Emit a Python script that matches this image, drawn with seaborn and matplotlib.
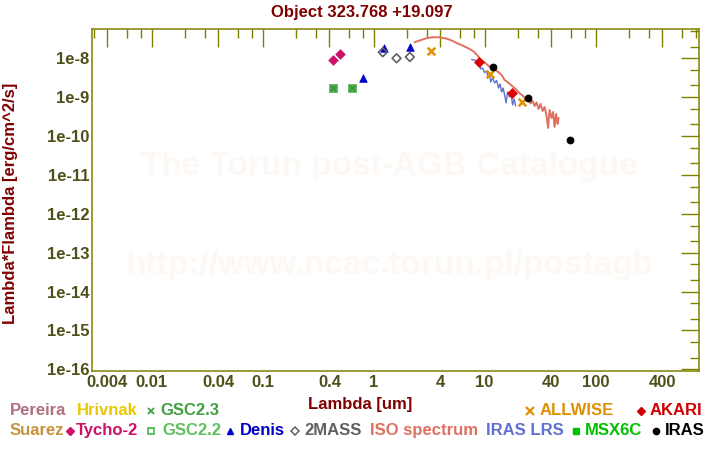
import matplotlib
matplotlib.use("Agg")
import matplotlib.pyplot as plt
from matplotlib.lines import Line2D
import seaborn as sns
import pandas as pd

# ---------------- data ----------------
tycho_x = [0.43, 0.497]
tycho_y = [9.04e-9, 1.27e-8]
gsc22_x = [0.43, 0.638]
gsc22_y = [1.69e-9, 1.69e-9]
gsc23_x = [0.43, 0.638]
gsc23_y = [1.69e-9, 1.69e-9]
denis_x = [0.796, 1.238, 2.11]
denis_y = [3.06e-9, 1.87e-8, 1.99e-8]
tmass_x = [1.21, 1.61, 2.12]
tmass_y = [1.43e-8, 1.0e-8, 1.08e-8]
allwise_x = [3.28, 11.3, 21.7]
allwise_y = [1.51e-8, 3.88e-9, 7.66e-10]
akari_x = [8.83, 17.5]
akari_y = [7.89e-9, 1.26e-9]
iras_x = [11.88, 24.55, 58.7]
iras_y = [5.87e-9, 9.37e-10, 7.8e-11]

iso_x = [2.34, 2.60, 2.98, 3.40, 3.93, 4.36, 4.67, 5.04, 5.48, 5.95, 6.60, 7.33,
         7.96, 8.42, 8.83, 9.34, 10.0, 11.09, 12.05, 13.18, 14.23, 15.14, 16.45,
         17.99, 19.43, 20.67, 22.0, 23.75, 24.91, 25.97, 27.06, 28.22, 29.41,
         30.65, 31.95, 33.30, 34.71, 36.19, 37.34, 38.51, 40.14, 41.41, 42.72,
         44.07, 45.47, 46.42]
iso_y = [2.58e-8, 2.87e-8, 3.27e-8, 3.47e-8, 3.47e-8, 3.27e-8, 3.13e-8, 2.87e-8,
         2.55e-8, 2.29e-8, 2.01e-8, 1.73e-8, 1.50e-8, 1.27e-8, 1.08e-8, 9.04e-9,
         7.80e-9, 6.08e-9, 5.31e-9, 4.52e-9, 3.72e-9, 2.77e-9, 2.32e-9, 1.86e-9,
         1.53e-9, 1.26e-9, 1.106e-9, 8.47e-10, 8.99e-10, 6.89e-10, 7.99e-10,
         5.94e-10, 7.31e-10, 4.97e-10, 6.69e-10, 4.42e-10, 5.60e-10, 3.29e-10,
         1.62e-10, 4.69e-10, 2.92e-10, 4.16e-10, 1.71e-10, 3.70e-10, 2.05e-10,
         2.92e-10]

lrs_x = [7.64, 8.47, 8.65, 9.02, 9.20, 9.59, 10.0, 10.42, 10.75, 11.09, 11.33,
         11.81, 12.31, 12.83, 13.37, 13.79, 14.23, 14.68, 15.14, 15.62, 16.11,
         16.80, 17.33, 17.88, 18.45, 19.03]
lrs_y = [9.31e-9, 8.78e-9, 6.73e-9, 7.14e-9, 5.31e-9, 5.63e-9, 4.32e-9, 4.72e-9,
         3.31e-9, 3.61e-9, 2.46e-9, 3.11e-9, 2.32e-9, 2.69e-9, 1.72e-9, 2.18e-9,
         1.36e-9, 1.72e-9, 1.14e-9, 7.10e-10, 1.36e-9, 1.01e-9, 1.21e-9, 6.30e-10,
         8.99e-10, 5.94e-10]

x_major = [0.004, 0.01, 0.04, 0.1, 0.4, 1, 4, 10, 40, 100, 400]
x_major_labels = ["0.004", "0.01", "0.04", "0.1", "0.4", "1", "4", "10", "40", "100", "400"]
x_minor = [0.003, 0.006, 0.008, 0.02, 0.03, 0.06, 0.08, 0.2, 0.3, 0.6, 0.8,
           2, 3, 6, 8, 20, 30, 60, 80, 200, 300, 600, 800]
y_major = [1e-8, 1e-9, 1e-10, 1e-11, 1e-12, 1e-13, 1e-14, 1e-15, 1e-16]
y_major_labels = ["1e-8", "1e-9", "1e-10", "1e-11", "1e-12", "1e-13", "1e-14", "1e-15", "1e-16"]
y_minor = [5e-8, 2e-8, 5e-9, 2e-9, 5e-10, 2e-10, 5e-11, 2e-11, 5e-12, 2e-12,
           5e-13, 2e-13, 5e-14, 2e-14, 5e-15, 2e-15, 5e-16, 2e-16]

# ---------------- style ----------------
sns.set_style("white")
plt.rcParams["font.family"] = ["Liberation Sans", "DejaVu Sans"]
plt.rcParams["font.weight"] = "bold"

OLIVE = "#808000"
TICKLAB = "#4f4f1a"
DARKRED = "#800000"

fig = plt.figure(figsize=(7.2, 4.5), dpi=100)
ax = fig.add_axes([92.3 / 720, 1 - 371.3 / 450, (699.3 - 92.3) / 720, (371.3 - 29.3) / 450])
ax.set_xscale("log")
ax.set_yscale("log")

# watermark
ax.text(0.49, 0.60, "The Torun post-AGB Catalogue", transform=ax.transAxes,
        ha="center", va="center", fontsize=24, color="#fdf8f3", zorder=0)
ax.text(0.49, 0.31, "http://www.ncac.torun.pl/postagb", transform=ax.transAxes,
        ha="center", va="center", fontsize=24, color="#fdf8f3", zorder=0)

# spectra
sns.lineplot(x=iso_x, y=iso_y, sort=False, estimator=None, color="#e07060",
             lw=1.4, ax=ax, zorder=2)
sns.lineplot(x=lrs_x, y=lrs_y, sort=False, estimator=None, color="#6070d0",
             lw=1.0, ax=ax, zorder=2)

# photometry
sns.scatterplot(x=gsc22_x, y=gsc22_y, marker="s", s=26, color="#50b050",
                edgecolor="#50b050", linewidth=0.5, ax=ax, zorder=3)
sns.scatterplot(x=gsc23_x, y=gsc23_y, marker="x", s=18, color="#3c963c",
                linewidth=1.2, ax=ax, zorder=4)
sns.scatterplot(x=tycho_x, y=tycho_y, marker="D", s=24, color="#cc1166",
                edgecolor="#cc1166", linewidth=0.5, ax=ax, zorder=3)
sns.scatterplot(x=denis_x, y=denis_y, marker="^", s=30, color="#0000cc",
                edgecolor="#0000cc", linewidth=0.5, ax=ax, zorder=3)
sns.scatterplot(x=tmass_x, y=tmass_y, marker="D", s=20, facecolor="none",
                edgecolor="#606060", linewidth=1.2, ax=ax, zorder=4)
sns.scatterplot(x=allwise_x, y=allwise_y, marker="x", s=30, color="#e09000",
                linewidth=1.8, ax=ax, zorder=4)
sns.scatterplot(x=akari_x, y=akari_y, marker="D", s=26, color="#dd0000",
                edgecolor="#dd0000", linewidth=0.5, ax=ax, zorder=4)
sns.scatterplot(x=iras_x, y=iras_y, marker="o", s=26, color="black",
                edgecolor="black", linewidth=0.5, ax=ax, zorder=5)

# axes
ax.set_xlim(0.00292, 860)
ax.set_ylim(8.9e-17, 5.56e-8)
ax.set_xticks(x_major)
ax.set_xticklabels(x_major_labels)
ax.set_xticks(x_minor, minor=True)
ax.set_xticklabels([], minor=True)
ax.set_yticks(y_major)
ax.set_yticklabels(y_major_labels)
ax.set_yticks(y_minor, minor=True)
ax.set_yticklabels([], minor=True)
ax.tick_params(which="both", direction="in", top=True, right=True,
               color=OLIVE, labelcolor=TICKLAB, labelsize=12)
ax.tick_params(which="major", length=13.3, width=1.0)
ax.tick_params(which="minor", length=6.7, width=1.0)
ax.tick_params(axis="y", which="major", pad=2)
ax.tick_params(axis="x", which="major", pad=3)
for lab in ax.get_xticklabels() + ax.get_yticklabels():
    lab.set_fontweight("bold")
for sp in ax.spines.values():
    sp.set_color(OLIVE)
    sp.set_linewidth(1.1)
ax.set_xlabel("")
ax.set_ylabel("")
ax.grid(False)

# titles / labels
fig.text(361.5 / 720, 1 - 12.5 / 450, "Object 323.768 +19.097", ha="center",
         va="center", fontsize=12, fontweight="bold", color=DARKRED)
fig.text(360 / 720, 1 - 404 / 450, "Lambda [um]", ha="center", va="center",
         fontsize=12, fontweight="bold", color=DARKRED)
fig.text(11 / 720, 1 - 203 / 450, "Lambda*Flambda [erg/cm^2/s]", ha="center",
         va="center", rotation=90, fontsize=12, fontweight="bold", color=DARKRED)

# legend (manual, as in the original)
def ltext(xpx, ypx, s, c):
    fig.text(xpx / 720, 1 - ypx / 450, s, ha="left", va="center", fontsize=12,
             fontweight="bold", color=c)

def lmark(xpx, ypx, m, c, ms, fill=True, mew=1.0):
    fig.add_artist(Line2D([xpx / 720], [1 - ypx / 450], transform=fig.transFigure,
                          marker=m, markersize=ms, color=c, linestyle="none",
                          markerfacecolor=c if fill else "none",
                          markeredgecolor=c, markeredgewidth=mew))

r1, r2 = 410.5, 430.5
ltext(10, r1, "Pereira", "#b07080")
ltext(77, r1, "Hrivnak", "#e8c800")
lmark(150.5, r1, "x", "#40a040", 4.5, mew=1.3)
ltext(160, r1, "GSC2.3", "#40a040")
lmark(530, r1, "x", "#e09000", 5.5, mew=1.6)
ltext(540, r1, "ALLWISE", "#e09000")
lmark(641, r1, "D", "#d00000", 4)
ltext(650, r1, "AKARI", "#d00000")

ltext(10, r2, "Suarez", "#c89040")
lmark(70, r2, "D", "#cc1166", 4)
ltext(76, r2, "Tycho-2", "#cc1166")
lmark(150.5, r2, "s", "#60c060", 4.5, fill=False, mew=1.4)
ltext(162, r2, "GSC2.2", "#60c060")
lmark(230.5, r2, "^", "#0000cc", 5)
ltext(240, r2, "Denis", "#0000cc")
lmark(294.5, r2, "D", "#606060", 4, fill=False, mew=1.1)
ltext(304, r2, "2MASS", "#606060")
ltext(370, r2, "ISO spectrum", "#e07060")
ltext(486, r2, "IRAS LRS", "#6070d0")
lmark(575.5, r2, "s", "#00c000", 5)
ltext(585, r2, "MSX6C", "#00c000")
lmark(655.5, r2, "o", "black", 4.5)
ltext(665, r2, "IRAS", "black")

fig.savefig("out.png", dpi=100)
